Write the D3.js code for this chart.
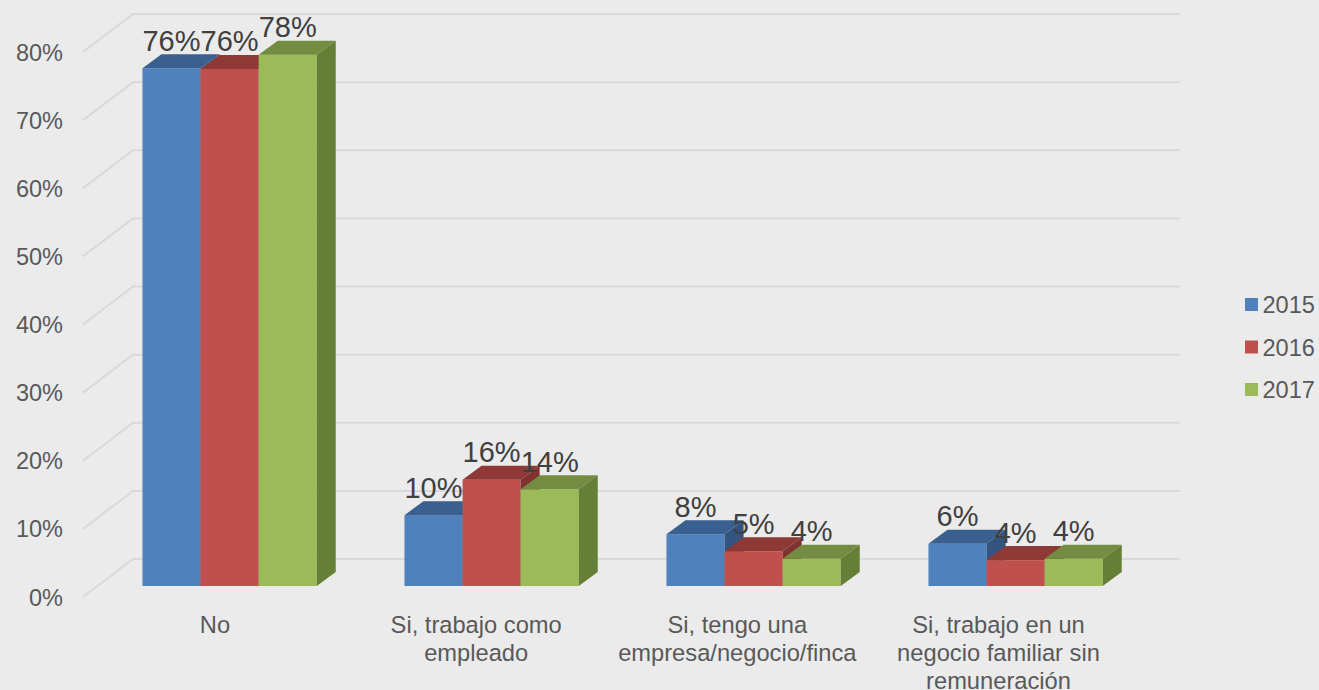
<!DOCTYPE html>
<html><head><meta charset="utf-8">
<script src="https://cdn.jsdelivr.net/npm/d3@7/dist/d3.min.js"></script>
<style>
html,body{margin:0;padding:0;background:#ebebeb;overflow:hidden}
svg{display:block}
text{font-family:"Liberation Sans",Arial,sans-serif}
</style></head><body>
<svg id="c" width="1319" height="690"></svg>
<script>
const categories = [["No"],["Si, trabajo como","empleado"],["Si, tengo una","empresa/negocio/finca"],["Si, trabajo en un","negocio familiar sin","remuneración"]];
const years = ["2015","2016","2017"];
const v2015 = [76, 10.4, 7.6, 6.2];
const v2016 = [75.9, 15.6, 5.1, 3.8];
const v2017 = [78, 14.2, 4, 4];
const yTicks = [0,10,20,30,40,50,60,70,80];
const colFront = ["#4f81bd","#c0504d","#9bbb59"];
const colTop = ["#3a6090","#8f3936","#748c42"];
const colSide = ["#335480","#7f3230","#667f37"];

const W=1319,H=690;
const wallDx=50, wallDy=38, barOffX=15.6, barOffY=11, barDx=19, barDy=14;
const svg=d3.select("#c");
svg.append("rect").attr("width",W).attr("height",H).attr("fill","#ebebeb");
const y=d3.scaleLinear().domain([0,80]).range([597,52]);
const x0=d3.scaleBand().domain(d3.range(categories.length)).range([83,1131]);
const x1=d3.scaleBand().domain(years).range([0,x0.bandwidth()]).paddingOuter(0.755).paddingInner(0);
const xLabel=d3.scalePoint().domain(d3.range(categories.length)).range([215,998.5]);
const series=[v2015,v2016,v2017];
const pct=d=>Math.round(d)+"%";

// walls
const grid=svg.append("g").attr("fill","none").attr("stroke","#d9d9d9").attr("stroke-width",2);
grid.selectAll("path").data(yTicks).join("path")
 .attr("d",d=>`M${x0.range()[0]},${y(d)}L${x0.range()[0]+wallDx},${y(d)-wallDy}H${x0.range()[1]+wallDx-1}`);

// y axis
const ax=svg.append("g").attr("transform","translate(69,0.5)")
 .call(d3.axisLeft(y).tickValues(yTicks).tickSize(0).tickPadding(6).tickFormat(d=>d+"%"));
ax.select(".domain").remove();
ax.selectAll("text").attr("font-size",23.5).attr("fill","#595959").style("font-family",'"Liberation Sans",Arial,sans-serif');

// bars
const bars=svg.append("g");
categories.forEach((c,i)=>{
  years.forEach((yr,s)=>{
    const v=series[s][i];
    const l=x0(i)+x1(yr)+barOffX, r=l+x1.bandwidth();
    const t=y(v)-barOffY, b=y(0)-barOffY;
    const g=bars.append("g");
    g.append("rect").attr("x",l).attr("y",t).attr("width",r-l).attr("height",b-t).attr("fill",colFront[s]);
    g.append("path").attr("fill",colTop[s]).attr("d",`M${l},${t}L${l+barDx},${t-barDy}H${r+barDx}L${r},${t}Z`);
    g.append("path").attr("fill",colSide[s]).attr("d",`M${r},${t}L${r+barDx},${t-barDy}V${b-barDy}L${r},${b}Z`);
  });
});
// data labels
const labels=svg.append("g").attr("text-anchor","middle").attr("font-size",29).attr("fill","#404040");
categories.forEach((c,i)=>{
  years.forEach((yr,s)=>{
    const v=series[s][i];
    labels.append("text").attr("x",x0(i)+x1(yr)+barOffX+x1.bandwidth()/2).attr("y",y(v)-barOffY-17.5).text(pct(v));
  });
});
// category labels
const cat=svg.append("g").attr("text-anchor","middle").attr("font-size",23.7).attr("fill","#595959");
categories.forEach((c,i)=>{
  const t=cat.append("text").attr("x",xLabel(i));
  c.forEach((ln,k)=>t.append("tspan").attr("x",xLabel(i)).attr("y",632.5+k*28).text(ln));
});
// legend
const lg=svg.append("g");
const ly=d3.scalePoint().domain(years).range([304.5,389.5]);
years.forEach((yr,s)=>{
  lg.append("rect").attr("x",1245).attr("y",ly(yr)-6.5).attr("width",13).attr("height",13).attr("fill",colFront[s]);
  lg.append("text").attr("x",1262.5).attr("y",ly(yr)+8.5).attr("font-size",23.6).attr("fill","#595959").text(yr);
});
</script>
</body></html>
